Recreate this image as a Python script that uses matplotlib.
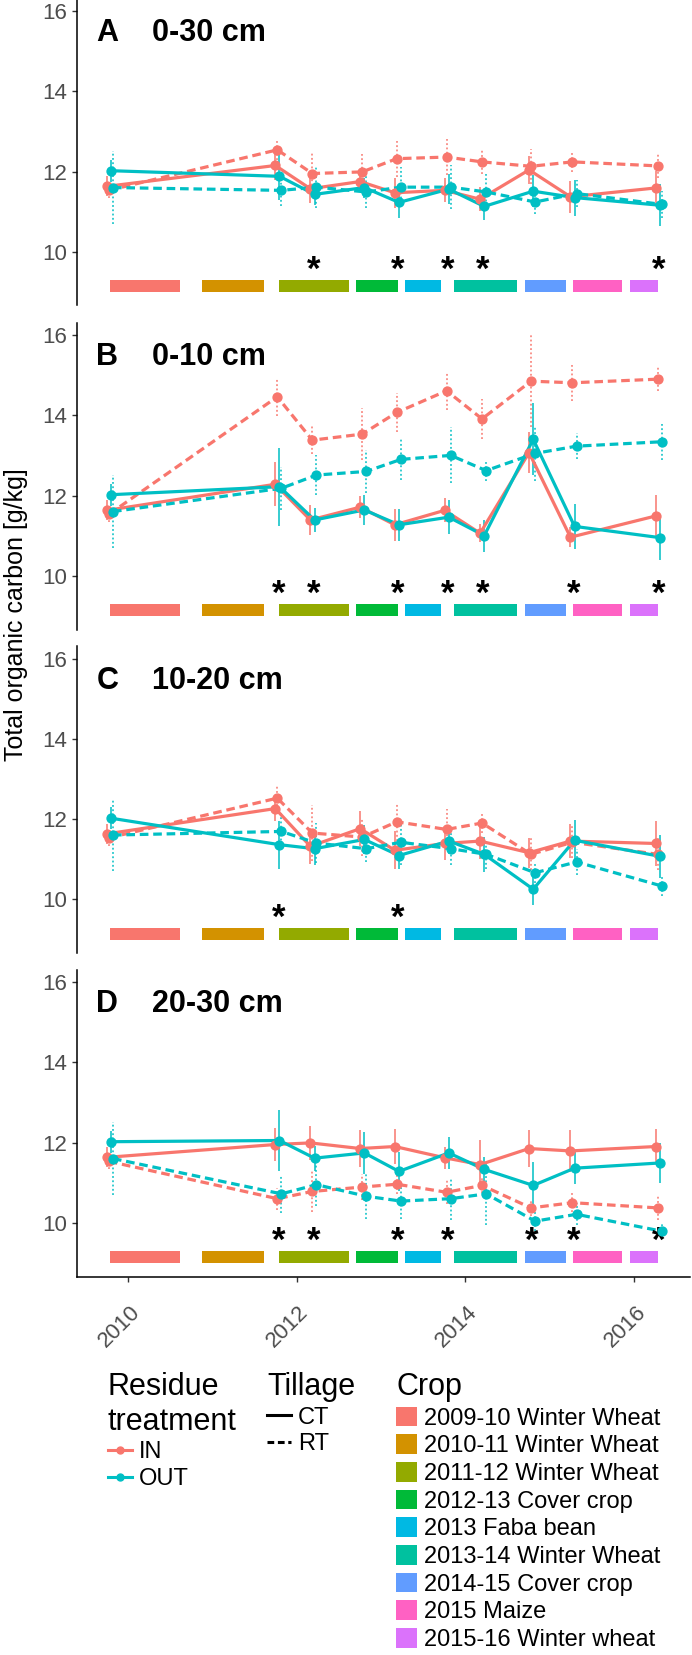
import matplotlib.pyplot as plt
from matplotlib.lines import Line2D
from matplotlib.patches import Patch
from matplotlib.transforms import ScaledTranslation

plt.rcParams['font.family'] = ['Liberation Sans', 'DejaVu Sans']

# sampling dates (decimal years)
dates = [2009.79, 2011.785, 2012.20, 2012.79, 2013.20, 2013.79, 2014.21, 2014.79, 2015.28, 2016.29]

# A: 0-30 cm
a_in_ct = [11.63, 12.15, 11.57, 11.75, 11.47, 11.53, 11.31, 12.04, 11.37, 11.59]
a_in_rt = [11.53, 12.54, 11.95, 11.99, 12.32, 12.36, 12.24, 12.13, 12.24, 12.14]
a_out_ct = [12.02, 11.88, 11.43, 11.60, 11.23, 11.56, 11.13, 11.51, 11.35, 11.16]
a_out_rt = [11.60, 11.53, 11.61, 11.49, 11.61, 11.61, 11.49, 11.24, 11.45, 11.18]
a_in_ct_se = [0.25, 0.35, 0.35, 0.25, 0.37, 0.30, 0.30, 0.35, 0.40, 0.43]
a_in_rt_se = [0.20, 0.25, 0.50, 0.45, 0.45, 0.45, 0.30, 0.43, 0.25, 0.30]
a_out_ct_se = [0.27, 0.60, 0.27, 0.25, 0.40, 0.37, 0.33, 0.40, 0.45, 0.53]
a_out_rt_se = [0.90, 0.40, 0.53, 0.40, 0.50, 0.55, 0.45, 0.30, 0.33, 0.33]

# B: 0-10 cm
b_in_ct = [11.63, 12.28, 11.39, 11.71, 11.27, 11.63, 11.06, 13.07, 10.96, 11.49]
b_in_rt = [11.53, 14.46, 13.38, 13.53, 14.07, 14.61, 13.91, 14.85, 14.81, 14.90]
b_out_ct = [12.02, 12.22, 11.39, 11.64, 11.27, 11.46, 11.00, 13.40, 11.23, 10.95]
b_out_rt = [11.60, 12.18, 12.51, 12.60, 12.90, 13.00, 12.62, 13.05, 13.23, 13.34]
b_in_ct_se = [0.25, 0.55, 0.38, 0.27, 0.40, 0.30, 0.23, 0.52, 0.25, 0.52]
b_in_rt_se = [0.20, 0.48, 0.35, 0.64, 0.48, 0.48, 0.50, 1.14, 0.45, 0.30]
b_out_ct_se = [0.27, 0.97, 0.30, 0.37, 0.40, 0.42, 0.40, 0.90, 0.56, 0.56]
b_out_rt_se = [0.90, 0.54, 0.50, 0.53, 0.52, 0.70, 0.27, 0.68, 0.33, 0.45]

# C: 10-20 cm
c_in_ct = [11.63, 12.26, 11.32, 11.76, 11.22, 11.39, 11.45, 11.16, 11.45, 11.39]
c_in_rt = [11.53, 12.52, 11.65, 11.55, 11.93, 11.74, 11.90, 11.12, 11.42, 11.12]
c_out_ct = [12.02, 11.36, 11.26, 11.49, 11.09, 11.45, 11.12, 10.25, 11.47, 11.07]
c_out_rt = [11.60, 11.69, 11.40, 11.26, 11.42, 11.26, 11.12, 10.66, 10.93, 10.33]
c_in_ct_se = [0.25, 0.30, 0.45, 0.43, 0.47, 0.40, 0.45, 0.37, 0.42, 0.56]
c_in_rt_se = [0.20, 0.30, 0.70, 0.47, 0.47, 0.50, 0.25, 0.40, 0.40, 0.40]
c_out_ct_se = [0.27, 0.60, 0.40, 0.37, 0.33, 0.33, 0.43, 0.40, 0.50, 0.54]
c_out_rt_se = [0.90, 0.45, 0.50, 0.33, 0.57, 0.40, 0.37, 0.25, 0.33, 0.25]

# D: 20-30 cm
d_in_ct = [11.63, 11.95, 11.99, 11.85, 11.90, 11.62, 11.45, 11.85, 11.79, 11.90]
d_in_rt = [11.53, 10.60, 10.78, 10.89, 10.96, 10.76, 10.93, 10.37, 10.50, 10.37]
d_out_ct = [12.02, 12.05, 11.61, 11.74, 11.28, 11.74, 11.33, 10.93, 11.36, 11.49]
d_out_rt = [11.60, 10.72, 10.95, 10.66, 10.54, 10.60, 10.72, 10.04, 10.21, 9.79]
d_in_ct_se = [0.25, 0.40, 0.42, 0.47, 0.43, 0.27, 0.62, 0.47, 0.53, 0.43]
d_in_rt_se = [0.20, 0.27, 0.50, 0.33, 0.25, 0.30, 0.20, 0.20, 0.23, 0.30]
d_out_ct_se = [0.27, 0.76, 0.31, 0.52, 0.49, 0.40, 0.31, 0.58, 0.40, 0.50]
d_out_rt_se = [0.90, 0.48, 0.54, 0.56, 0.44, 0.52, 0.77, 0.25, 0.27, 0.20]

# significance marks (index into dates)
stars_a = [2, 4, 5, 6, 9]
stars_b = [1, 2, 4, 5, 6, 8, 9]
stars_c = [1, 4]
stars_d = [1, 2, 4, 5, 7, 8, 9]

# crop periods
crop_names = ['2009-10 Winter Wheat', '2010-11 Winter Wheat', '2011-12 Winter Wheat',
              '2012-13 Cover crop', '2013 Faba bean', '2013-14 Winter Wheat',
              '2014-15 Cover crop', '2015 Maize', '2015-16 Winter wheat']
crop_start = [2009.79, 2010.88, 2011.79, 2012.71, 2013.29, 2013.87, 2014.71, 2015.28, 2015.95]
crop_end = [2010.62, 2011.62, 2012.62, 2013.20, 2013.71, 2014.61, 2015.19, 2015.86, 2016.28]
crop_colors = ['#F8766D', '#D39200', '#93AA00', '#00BA38', '#00B9E3',
               '#00C19F', '#619CFF', '#FF61C3', '#DB72FB']

panel_letters = ['A', 'B', 'C', 'D']
panel_depths = ['0-30 cm', '0-10 cm', '10-20 cm', '20-30 cm']

col_in = '#F8766D'
col_out = '#00BFC4'
dash = (0, (2.7, 1.5))
dot = (0, (1.2, 1.6))

W, H = 692, 1655
fig = plt.figure(figsize=(W / 100, H / 100), dpi=100)

panels = [
    (a_in_ct, a_in_rt, a_out_ct, a_out_rt, a_in_ct_se, a_in_rt_se, a_out_ct_se, a_out_rt_se, stars_a),
    (b_in_ct, b_in_rt, b_out_ct, b_out_rt, b_in_ct_se, b_in_rt_se, b_out_ct_se, b_out_rt_se, stars_b),
    (c_in_ct, c_in_rt, c_out_ct, c_out_rt, c_in_ct_se, c_in_rt_se, c_out_ct_se, c_out_rt_se, stars_c),
    (d_in_ct, d_in_rt, d_out_ct, d_out_rt, d_in_ct_se, d_in_rt_se, d_out_ct_se, d_out_rt_se, stars_d),
]

tops = [-1, 323, 646.5, 970]
ph = 306.5
left, right = 77, 690

for i, p in enumerate(panels):
    in_ct, in_rt, out_ct, out_rt, in_ct_se, in_rt_se, out_ct_se, out_rt_se, stars = p
    ax = fig.add_axes([left / W, 1 - (tops[i] + ph) / H, (right - left) / W, ph / H])

    series = [
        (in_ct, in_ct_se, col_in, '-', '-', -0.036),
        (in_rt, in_rt_se, col_in, dash, dot, -0.013),
        (out_ct, out_ct_se, col_out, '-', '-', 0.013),
        (out_rt, out_rt_se, col_out, dash, dot, 0.036),
    ]
    for vals, se, c, ls, els, off in series:
        x = [d + off for d in dates]
        lo = [v - e for v, e in zip(vals, se)]
        hi = [v + e for v, e in zip(vals, se)]
        ax.vlines(x, lo, hi, colors=c, linestyles=els, linewidth=1.1, zorder=2)
        ax.plot(x, vals, color=c, linestyle=ls, linewidth=2.3, zorder=3)
        ax.plot(x, vals, 'o', color=c, markersize=6.4, zorder=4)

    # crop periods
    for s, e, c in zip(crop_start, crop_end, crop_colors):
        ax.broken_barh([(s, e - s)], (8.99, 0.30), facecolors=c, zorder=1)

    for k in stars:
        ax.text(dates[k], 9.53, '*', ha='center', va='center', fontsize=25,
                fontweight='bold', color='black')

    ax.text(2009.63, 15.45, panel_letters[i], fontsize=22, fontweight='bold', va='center', ha='left')
    ax.text(2010.29, 15.45, panel_depths[i], fontsize=22, fontweight='bold', va='center', ha='left')

    ax.set_xlim(2009.40, 2016.66)
    ax.set_ylim(8.66, 16.30)
    ax.set_yticks([10, 12, 14, 16])
    ax.tick_params(axis='y', length=3.6, width=1, color='#333333', labelcolor='#4D4D4D',
                   labelsize=16, pad=3.6)
    for sp in ['top', 'right']:
        ax.spines[sp].set_visible(False)
    ax.spines['left'].set_linewidth(1.1)
    ax.spines['bottom'].set_linewidth(1.1)

    if i < 3:
        ax.spines['bottom'].set_visible(False)
        ax.set_xticks([])
    else:
        ax.set_xticks([2010, 2012, 2014, 2016])
        ax.set_xticklabels(['2010', '2012', '2014', '2016'])
        ax.tick_params(axis='x', length=3.6, width=1, color='#333333', labelcolor='#4D4D4D',
                       labelsize=16, pad=20)
        for lab in ax.get_xticklabels():
            lab.set_rotation(45)
            lab.set_ha('right')
            lab.set_va('center')
            lab.set_rotation_mode('anchor')
            lab.set_transform(lab.get_transform() + ScaledTranslation(0.09, 0, fig.dpi_scale_trans))

fig.text(16 / W, 1 - 615 / H, 'Total organic carbon [g/kg]', rotation=90,
         ha='center', va='center', fontsize=18)

# legends
res_handles = [Line2D([], [], color=col_in, lw=2.2, marker='o', ms=5),
               Line2D([], [], color=col_out, lw=2.2, marker='o', ms=5)]
till_handles = [Line2D([], [], color='black', lw=2.2, linestyle='-'),
                Line2D([], [], color='black', lw=2.2, linestyle=(0, (2.2, 1.2)))]
crop_handles = [Patch(facecolor=c, edgecolor='none') for c in crop_colors]

common = dict(frameon=False, loc='upper left', borderpad=0, borderaxespad=0,
              fontsize=17, title_fontsize=22, alignment='left', labelspacing=0.2)
y_leg = 1 - 1372 / H
leg1 = fig.legend(res_handles, ['IN', 'OUT'], title='Residue\ntreatment',
                  bbox_to_anchor=(108 / W, y_leg), handlelength=1.0, handletextpad=0.3, **common)
leg2 = fig.legend(till_handles, ['CT', 'RT'], title='Tillage',
                  bbox_to_anchor=(267 / W, y_leg), handlelength=1.0, handletextpad=0.3, **common)
leg3 = fig.legend(crop_handles, crop_names, title='Crop',
                  bbox_to_anchor=(396 / W, y_leg), handlelength=0.9, handleheight=0.9,
                  handletextpad=0.3, **common)

fig.savefig('out.png', dpi=100, facecolor='white')
